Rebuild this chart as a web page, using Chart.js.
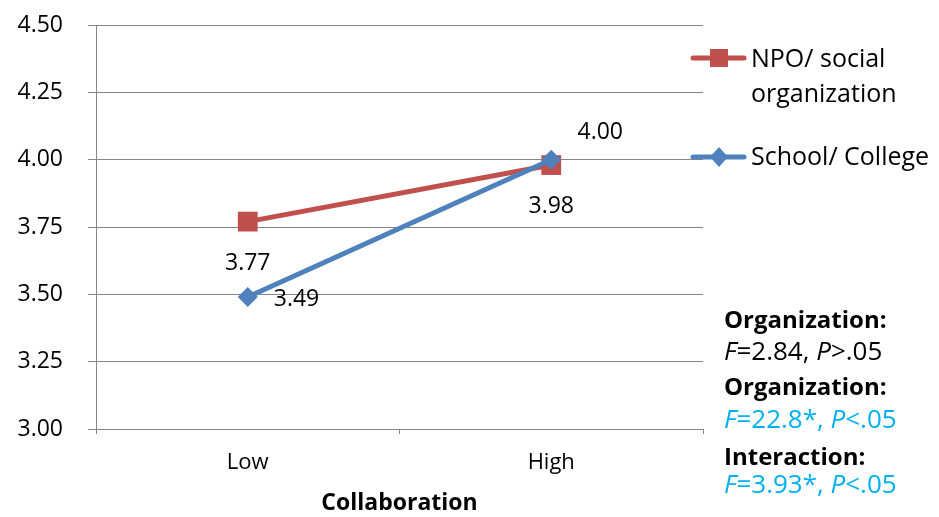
<!DOCTYPE html>
<html>
<head>
<meta charset="utf-8">
<script src="https://cdn.jsdelivr.net/npm/chart.js@4/dist/chart.umd.min.js"></script>
<style>
  html, body { margin: 0; padding: 0; background: #fff; }
  canvas { display: block; }
</style>
</head>
<body>
<canvas id="c" width="939" height="517"></canvas>
<script>
// Mean scores by collaboration level, per organization type
const categories = ['Low', 'High'];
const npoValues = [3.77, 3.98];
const schoolValues = [3.49, 4.00];
const seriesNames = [['NPO/ social', 'organization'], ['School/ College']];
const yTicks = [3.00, 3.25, 3.50, 3.75, 4.00, 4.25, 4.50];
const axisTitle = 'Collaboration';

const RED = '#C0504D';
const BLUE = '#4F81BD';
const STAT_BLUE = '#00B0F0';
const GRID = '#868686';
const FONT = '"Open Sans", "DejaVu Sans", sans-serif';

// Where each value label sits relative to its point (dx, dy of label centre)
const labelPlacement = [
  [{ dx: 0, dy: 40, align: 'center' }, { dx: 0, dy: 40, align: 'center' }],
  [{ dx: 26, dy: 1, align: 'left' }, { dx: 49, dy: -29, align: 'center' }]
];

const valueLabels = {
  id: 'valueLabels',
  afterDatasetsDraw(chart) {
    const ctx = chart.ctx;
    ctx.save();
    ctx.font = '23px ' + FONT;
    ctx.fillStyle = '#000';
    ctx.textBaseline = 'alphabetic';
    chart.data.datasets.forEach((ds, di) => {
      const meta = chart.getDatasetMeta(di);
      meta.data.forEach((pt, i) => {
        const p = labelPlacement[di][i];
        ctx.textAlign = p.align;
        ctx.fillText(ds.data[i].toFixed(2), pt.x + p.dx, pt.y + p.dy + 8);
      });
    });
    ctx.restore();
  }
};

// Legend at the right, drawn with line + marker samples
const sideLegend = {
  id: 'sideLegend',
  afterDraw(chart) {
    const ctx = chart.ctx;
    ctx.save();
    const rows = [
      { color: RED, marker: 'square', y: 58, lines: [[seriesNames[0][0], 67], [seriesNames[0][1], 102]] },
      { color: BLUE, marker: 'diamond', y: 157, lines: [[seriesNames[1][0], 165]] }
    ];
    rows.forEach(r => {
      ctx.strokeStyle = r.color;
      ctx.lineWidth = 5;
      ctx.lineCap = 'round';
      ctx.beginPath();
      ctx.moveTo(693, r.y);
      ctx.lineTo(744, r.y);
      ctx.stroke();
      ctx.fillStyle = r.color;
      const cx = 719;
      if (r.marker === 'square') {
        ctx.fillRect(cx - 9, r.y - 9, 18, 18);
      } else {
        ctx.beginPath();
        ctx.moveTo(cx, r.y - 10);
        ctx.lineTo(cx + 9, r.y);
        ctx.lineTo(cx, r.y + 10);
        ctx.lineTo(cx - 9, r.y);
        ctx.closePath();
        ctx.fill();
      }
      ctx.fillStyle = '#000';
      ctx.font = '25px ' + FONT;
      ctx.textAlign = 'left';
      ctx.textBaseline = 'alphabetic';
      r.lines.forEach(([t, by]) => ctx.fillText(t, 751, by));
    });
    ctx.restore();
  }
};

// ANOVA summary block under the legend
const statsBlock = {
  id: 'statsBlock',
  afterDraw(chart) {
    const ctx = chart.ctx;
    ctx.save();
    ctx.textAlign = 'left';
    ctx.textBaseline = 'alphabetic';
    const x0 = 724;
    const lines = [
      { y: 328, runs: [['Organization:', 'bold', '#000']] },
      { y: 360, runs: [['F', 'italic', '#000'], ['=2.84, ', '', '#000'], ['P', 'italic', '#000'], ['>.05', '', '#000']] },
      { y: 395, runs: [['Organization:', 'bold', '#000']] },
      { y: 428, runs: [['F', 'italic', STAT_BLUE], ['=22.8*, ', '', STAT_BLUE], ['P', 'italic', STAT_BLUE], ['<.05', '', STAT_BLUE]] },
      { y: 465, runs: [['Interaction:', 'bold', '#000']] },
      { y: 493, runs: [['F', 'italic', STAT_BLUE], ['=3.93*, ', '', STAT_BLUE], ['P', 'italic', STAT_BLUE], ['<.05', '', STAT_BLUE]] }
    ];
    lines.forEach(l => {
      let x = x0;
      l.runs.forEach(([t, style, col]) => {
        const size = style === 'bold' ? 24 : 26;
        ctx.font = (style ? style + ' ' : '') + size + 'px ' + FONT;
        ctx.fillStyle = col;
        ctx.fillText(t, x, l.y);
        x += ctx.measureText(t).width;
      });
    });
    ctx.restore();
  }
};

new Chart(document.getElementById('c'), {
  type: 'line',
  data: {
    labels: categories,
    datasets: [
      {
        label: seriesNames[0].join(' '),
        data: npoValues,
        borderColor: RED,
        backgroundColor: RED,
        borderWidth: 5,
        pointStyle: 'rect',
        pointRadius: 14,
        pointBorderWidth: 0,
        pointBackgroundColor: RED,
        order: 1
      },
      {
        label: seriesNames[1][0],
        data: schoolValues,
        borderColor: BLUE,
        backgroundColor: BLUE,
        borderWidth: 5,
        pointStyle: 'rectRot',
        pointRadius: 10,
        pointBorderWidth: 0,
        pointBackgroundColor: BLUE,
        order: 0
      }
    ]
  },
  options: {
    responsive: false,
    animation: false,
    events: [],
    layout: { padding: { top: 25, right: 236, left: 0, bottom: 0 } },
    plugins: {
      legend: { display: false },
      tooltip: { enabled: false }
    },
    scales: {
      x: {
        offset: true,
        grid: { offset: true, drawOnChartArea: false, tickLength: 5, color: GRID },
        border: { color: GRID, width: 1 },
        ticks: { color: '#000', font: { family: FONT, size: 22 }, padding: 16 },
        title: {
          display: true,
          text: axisTitle,
          color: '#000',
          font: { family: FONT, size: 23, weight: 'bold' },
          padding: { top: 0, bottom: 0 }
        },
        afterFit(scale) { scale.height = 88; }
      },
      y: {
        min: yTicks[0],
        max: yTicks[yTicks.length - 1],
        afterBuildTicks(scale) { scale.ticks = yTicks.map(v => ({ value: v })); },
        grid: { color: GRID, tickLength: 8 },
        border: { color: GRID, width: 1 },
        ticks: {
          color: '#000',
          font: { family: FONT, size: 23 },
          padding: 25,
          callback: v => Number(v).toFixed(2)
        },
        afterFit(scale) {
          scale.width = 96;
          scale.paddingTop = 0;
          scale.paddingBottom = 0;
        }
      }
    }
  },
  plugins: [valueLabels, sideLegend, statsBlock]
});
</script>
</body>
</html>
